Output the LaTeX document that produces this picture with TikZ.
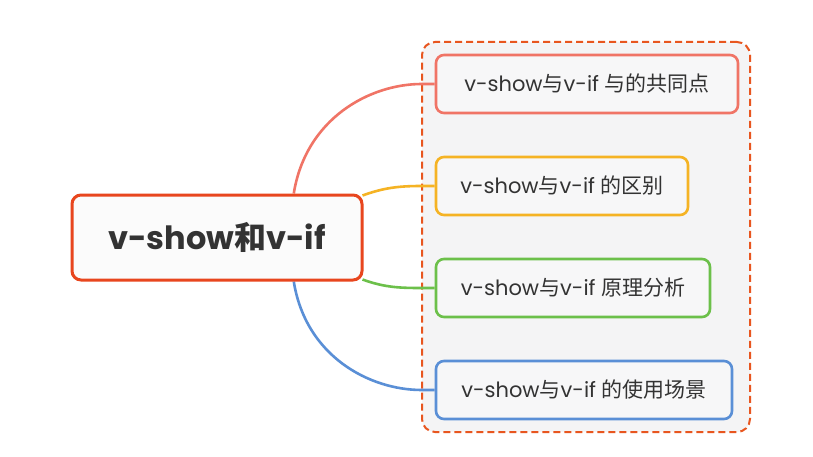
\documentclass[tikz,border=0pt]{standalone}
\usepackage{fontspec}
\setmainfont{Poppins}
\newfontfamily\cjk{Noto Sans CJK SC}
\usetikzlibrary{backgrounds,calc}
\definecolor{mainred}{HTML}{E8461E}
\definecolor{dashred}{HTML}{E8561F}
\definecolor{cred}{HTML}{F07466}
\definecolor{cyellow}{HTML}{F5B324}
\definecolor{cgreen}{HTML}{6CC04A}
\definecolor{cblue}{HTML}{5A8FD6}
\definecolor{txt}{HTML}{333333}
\definecolor{contfill}{HTML}{F4F4F5}
\definecolor{boxfill}{HTML}{F7F7F8}
\tikzset{
  mainbox/.style={draw=mainred, line width=3pt, fill=boxfill!50!white, rounded corners=9pt,
    minimum width=290pt, minimum height=85pt, inner sep=0pt, text=txt,
    font=\fontsize{32}{36}\selectfont\bfseries},
  childbox/.style={draw=#1, line width=2.6pt, fill=boxfill, rounded corners=8pt,
    minimum height=58pt, inner sep=0pt, text=txt, font=\fontsize{21}{24}\selectfont},
  conn/.style={draw=#1, line width=2.6pt},
  container/.style={draw=dashred, line width=2pt, dash pattern=on 7pt off 4pt, fill=contfill,
    rounded corners=13pt, minimum width=328pt, minimum height=390pt, inner sep=0pt}
}
\begin{document}
\begin{tikzpicture}[x=1pt,y=-1pt]
\useasboundingbox (0,0) rectangle (813,457);
\node[mainbox] (main) at (217,237.5) {v-show{\cjk 和}v-if};
\node[childbox=cred, minimum width=302pt] (c1) at (587,84) {v-show{\cjk 与}v-if {\cjk 与的共同点}};
\node[childbox=cyellow, minimum width=252pt] (c2) at (562,186) {v-show{\cjk 与}v-if {\cjk 的区别}};
\node[childbox=cgreen, minimum width=274pt] (c3) at (573,288) {v-show{\cjk 与}v-if {\cjk 原理分析}};
\node[childbox=cblue, minimum width=296pt] (c4) at (584,390) {v-show{\cjk 与}v-if {\cjk 的使用场景}};
\begin{pgfonlayer}{background}
\fill[white] (0,0) rectangle (813,457);
\node[container] (cont) at (586,237) {};
\coordinate (s1) at ($(main.north west)!0.762!(main.north east)$);
\coordinate (s4) at ($(main.south west)!0.762!(main.south east)$);
\coordinate (s2) at ($(main.north east)+(-1,2)$);
\coordinate (s3) at ($(main.south east)+(-1,-2)$);
\draw[conn=cred] (s1) .. controls +(12,-75) and ($(c1.west)+(-65,0)$) .. ($(c1.west)+(-13,0)$) -- (c1.west);
\draw[conn=cyellow] (s2) .. controls +(22,-8) and ($(c2.west)+(-35,0)$) .. ($(c2.west)+(-13,0)$) -- (c2.west);
\draw[conn=cgreen] (s3) .. controls +(22,8) and ($(c3.west)+(-35,0)$) .. ($(c3.west)+(-13,0)$) -- (c3.west);
\draw[conn=cblue] (s4) .. controls +(12,75) and ($(c4.west)+(-65,0)$) .. ($(c4.west)+(-13,0)$) -- (c4.west);
\end{pgfonlayer}
\end{tikzpicture}
\end{document}
